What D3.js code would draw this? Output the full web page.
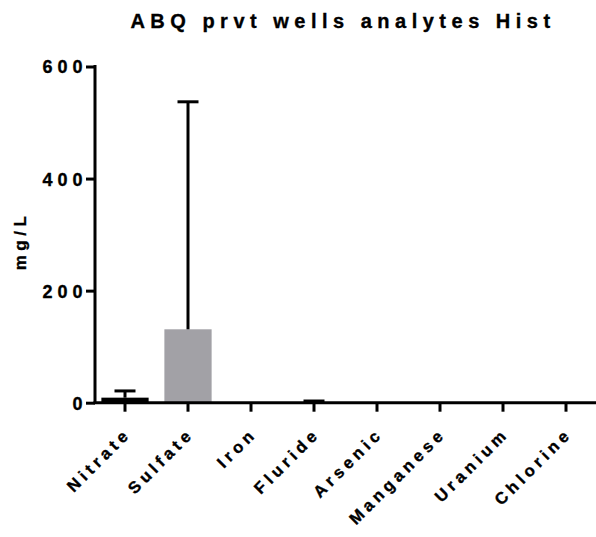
<!DOCTYPE html>
<html>
<head>
<meta charset="utf-8">
<script src="https://cdn.jsdelivr.net/npm/d3@7"></script>
<style>
  html, body { margin: 0; padding: 0; background: #fff; }
  svg { display: block; }
  text { font-family: "Liberation Sans", Arial, sans-serif; font-weight: bold; fill: #000; stroke: #000; stroke-width: 0.35px; }
</style>
</head>
<body>
<script>
// Analyte means (mg/L) with the upper end of each error bar
const analytes = ["Nitrate", "Sulfate", "Iron", "Fluride", "Arsenic", "Manganese", "Uranium", "Chlorine"];
const means = [9, 131, 1, 1, 0.05, 0.05, 0.02, 0.02];
const upper = [21, 537, 1.5, 3, 0.1, 0.1, 0.05, 0.05];
const barFills = ["#000000", "#a2a1a6", "#a2a1a6", "#a2a1a6", "#a2a1a6", "#a2a1a6", "#a2a1a6", "#a2a1a6"];
const yTicks = [0, 200, 400, 600];

const W = 596, H = 537;
const svg = d3.select("body").append("svg").attr("width", W).attr("height", H);

const x = d3.scaleBand().domain(analytes).range([93.5, 597.5]).paddingInner(0.25).paddingOuter(0.125);
const y = d3.scaleLinear().domain([0, 600]).range([402.7, 66.5]);

// bars
svg.append("g").selectAll("rect").data(analytes).join("rect")
  .attr("x", d => x(d))
  .attr("width", x.bandwidth())
  .attr("y", (d, i) => y(means[i]))
  .attr("height", (d, i) => y(0) - y(means[i]))
  .attr("fill", (d, i) => barFills[i]);

// error bars: vertical stem plus cap
const capHalf = 10.5;
const eb = svg.append("g").attr("stroke", "#000").attr("stroke-width", 3);
analytes.forEach((d, i) => {
  const cx = x(d) + x.bandwidth() / 2;
  if (upper[i] - means[i] < 1) return;
  eb.append("line").attr("x1", cx).attr("x2", cx).attr("y1", y(means[i])).attr("y2", y(upper[i]));
  eb.append("line").attr("x1", cx - capHalf).attr("x2", cx + capHalf).attr("y1", y(upper[i])).attr("y2", y(upper[i]));
});

// y axis
const yAxis = svg.append("g").attr("transform", "translate(95,0)")
  .call(d3.axisLeft(y).tickValues(yTicks).tickSize(9).tickPadding(0));
yAxis.select(".domain").attr("stroke-width", 3).attr("d", `M0,${y(600) - 1.5}V${y(0)}`);
yAxis.selectAll(".tick line").attr("stroke-width", 3);
yAxis.selectAll(".tick text")
  .attr("x", -7.5)
  .attr("dy", "0.36em")
  .attr("fill", null)
  .style("font-size", "18px").style("letter-spacing", "5px")
  .attr("font-family", null);

// x axis
const xAxis = svg.append("g").attr("transform", `translate(0,${y(0)})`)
  .call(d3.axisBottom(x).tickSize(9).tickSizeOuter(0).tickFormat(() => ""));
xAxis.select(".domain").attr("stroke-width", 3).attr("d", `M93.5,0H596`);
xAxis.selectAll(".tick line").attr("stroke-width", 3);

// rotated category labels
svg.append("g").selectAll("text").data(analytes).join("text")
  .attr("transform", d => `translate(${x(d) + x.bandwidth() / 2 + 7},${y(0) + 32}) rotate(-45)`)
  .attr("text-anchor", "end")
  .style("font-size", "16.5px")
  .style("letter-spacing", "4.3px")
  .text(d => d);

// y axis title
svg.append("text")
  .attr("transform", `translate(26,241) rotate(-90)`)
  .attr("text-anchor", "middle")
  .style("font-size", "17px")
  .style("letter-spacing", "4.5px")
  .text("mg/L");

// chart title
svg.append("text")
  .attr("x", 343).attr("y", 28)
  .attr("text-anchor", "middle")
  .style("font-size", "20px")
  .style("letter-spacing", "5.5px")
  .text("ABQ prvt wells analytes Hist");
</script>
</body>
</html>
